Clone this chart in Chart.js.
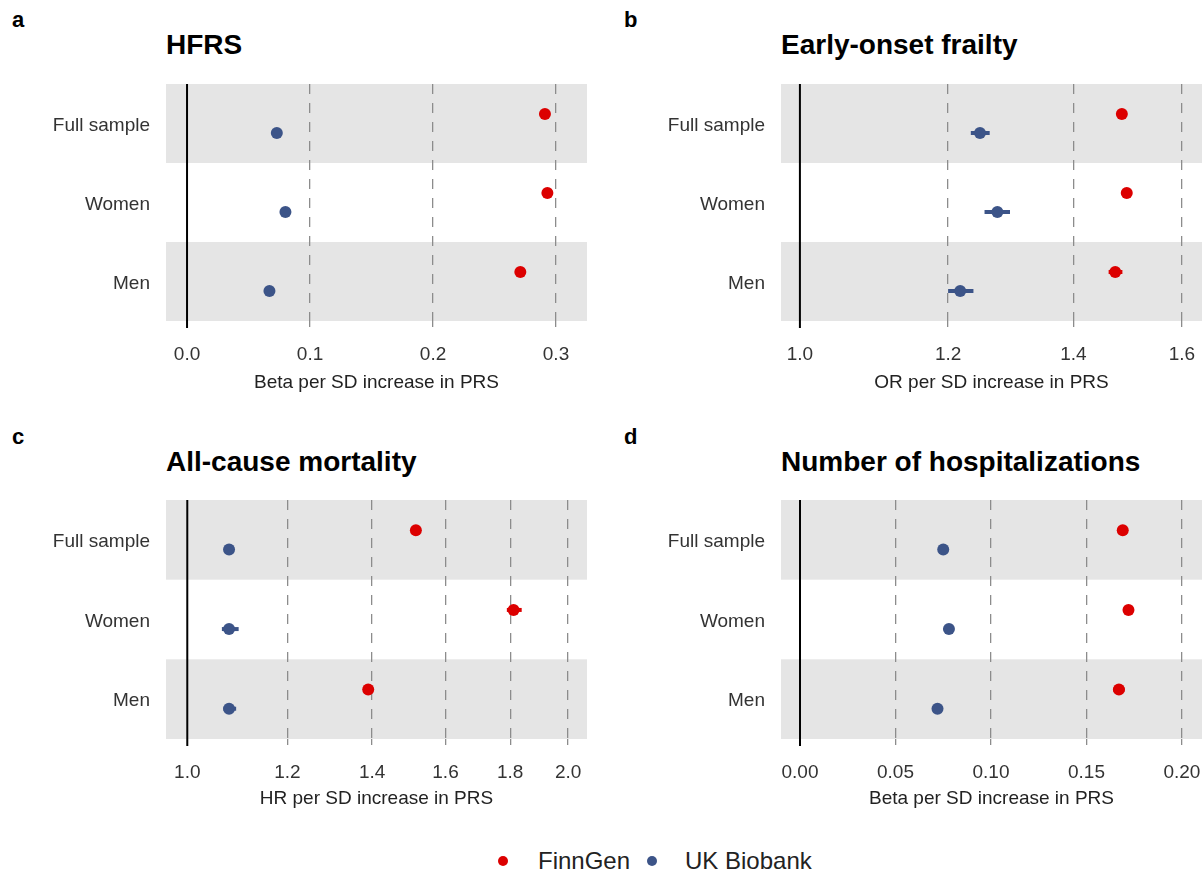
<!DOCTYPE html>
<html>
<head>
<meta charset="utf-8">
<script src="https://cdn.jsdelivr.net/npm/chart.js@4.4.1/dist/chart.umd.min.js"></script>
<style>
  body { margin: 0; background: #fff; font-family: "Liberation Sans", Arial, sans-serif; }
  #page { position: relative; width: 1203px; height: 873px; overflow: hidden; background: #fff; }
  .box { position: absolute; }
  .tag { position: absolute; font-weight: bold; font-size: 22px; line-height: 22px; color: #000; }
  .ttl { position: absolute; font-weight: bold; font-size: 28px; line-height: 28px; color: #000; white-space: nowrap; }
  .leg { position: absolute; font-size: 24px; line-height: 24px; color: #222; white-space: nowrap; }
  .dot { position: absolute; width: 10px; height: 10px; border-radius: 50%; }
</style>
</head>
<body>
<div id="page">
  <div class="tag" style="left:12px;top:9px">a</div>
  <div class="tag" style="left:624px;top:9px">b</div>
  <div class="tag" style="left:12px;top:426px">c</div>
  <div class="tag" style="left:624px;top:426px">d</div>

  <div class="ttl" style="left:166px;top:31px">HFRS</div>
  <div class="ttl" style="left:781px;top:31px">Early-onset frailty</div>
  <div class="ttl" style="left:166px;top:448px">All-cause mortality</div>
  <div class="ttl" style="left:781px;top:448px">Number of hospitalizations</div>

  <div class="box" style="left:0px;top:70px;width:600px;height:330px"><canvas id="chartA" width="600" height="330"></canvas></div>
  <div class="box" style="left:610px;top:70px;width:593px;height:330px"><canvas id="chartB" width="593" height="330"></canvas></div>
  <div class="box" style="left:0px;top:486px;width:600px;height:330px"><canvas id="chartC" width="600" height="330"></canvas></div>
  <div class="box" style="left:610px;top:486px;width:593px;height:330px"><canvas id="chartD" width="593" height="330"></canvas></div>

  <div class="dot" style="left:498px;top:856px;background:#DC0000"></div>
  <div class="leg" style="left:538px;top:849px">FinnGen</div>
  <div class="dot" style="left:647px;top:856px;background:#3C5488"></div>
  <div class="leg" style="left:685px;top:849px">UK Biobank</div>
</div>

<script>
// rows, top to bottom
var rowLabels = ['Full sample', 'Women', 'Men'];
var seriesNames = ['FinnGen', 'UK Biobank'];

// HFRS (beta)
var hfrsFinn   = [0.291, 0.293, 0.271];
var hfrsFinnLo = [0.289, 0.291, 0.269];
var hfrsFinnHi = [0.293, 0.295, 0.273];
var hfrsUkb    = [0.073, 0.080, 0.067];
var hfrsUkbLo  = [0.072, 0.079, 0.066];
var hfrsUkbHi  = [0.074, 0.081, 0.068];
var hfrsTicks = [0, 0.1, 0.2, 0.3];
var hfrsTickLabels = ['0.0', '0.1', '0.2', '0.3'];

// Early-onset frailty (OR)
var frailFinn   = [1.486, 1.495, 1.474];
var frailFinnLo = [1.480, 1.487, 1.462];
var frailFinnHi = [1.492, 1.503, 1.487];
var frailUkb    = [1.248, 1.275, 1.218];
var frailUkbLo  = [1.234, 1.255, 1.200];
var frailUkbHi  = [1.263, 1.295, 1.238];
var frailTicks = [1.0, 1.2, 1.4, 1.6];
var frailTickLabels = ['1.0', '1.2', '1.4', '1.6'];

// All-cause mortality (HR)
var mortFinn   = [1.516, 1.811, 1.390];
var mortFinnLo = [1.510, 1.789, 1.384];
var mortFinnHi = [1.522, 1.838, 1.396];
var mortUkb    = [1.079, 1.079, 1.079];
var mortUkbLo  = [1.073, 1.065, 1.068];
var mortUkbHi  = [1.085, 1.098, 1.093];
var mortTicks = [1.0, 1.2, 1.4, 1.6, 1.8, 2.0];
var mortTickLabels = ['1.0', '1.2', '1.4', '1.6', '1.8', '2.0'];

// Number of hospitalizations (beta)
var hospFinn   = [0.169, 0.172, 0.167];
var hospFinnLo = [0.1675, 0.1695, 0.164];
var hospFinnHi = [0.1705, 0.1745, 0.170];
var hospUkb    = [0.075, 0.078, 0.072];
var hospUkbLo  = [0.0738, 0.0755, 0.0695];
var hospUkbHi  = [0.0762, 0.0805, 0.0745];
var hospTicks = [0, 0.05, 0.10, 0.15, 0.20];
var hospTickLabels = ['0.00', '0.05', '0.10', '0.15', '0.20'];

var RED = '#DC0000';
var BLUE = '#3C5488';
var rowPos = [3, 2, 1];
var shadedRows = [3, 1];
var dodge = 0.12;

// bands, reference line and CI bars
var forestPlugin = {
  id: 'forest',
  beforeDraw: function(chart) {
    var ctx = chart.ctx, a = chart.chartArea, y = chart.scales.y;
    ctx.save();
    ctx.fillStyle = '#e5e5e5';
    shadedRows.forEach(function(r) {
      var t = y.getPixelForValue(r + 0.5), b = y.getPixelForValue(r - 0.5);
      ctx.fillRect(a.left, t, a.right - a.left, b - t);
    });
    ctx.restore();
  },
  beforeDatasetsDraw: function(chart, args, opts) {
    var ctx = chart.ctx, a = chart.chartArea, x = chart.scales.x, y = chart.scales.y;
    ctx.save();
    var px = x.getPixelForValue(opts.ref);
    ctx.strokeStyle = '#000';
    ctx.lineWidth = 2;
    ctx.beginPath();
    ctx.moveTo(px, a.top);
    ctx.lineTo(px, a.bottom + 7);
    ctx.stroke();
    ctx.lineWidth = 4;
    ctx.lineCap = 'butt';
    chart.data.datasets.forEach(function(ds) {
      ctx.strokeStyle = ds.backgroundColor;
      ds.data.forEach(function(p) {
        var py = y.getPixelForValue(p.y);
        ctx.beginPath();
        ctx.moveTo(x.getPixelForValue(p.lo), py);
        ctx.lineTo(x.getPixelForValue(p.hi), py);
        ctx.stroke();
      });
    });
    ctx.restore();
  }
};

function points(vals, lo, hi, off) {
  return vals.map(function(v, i) {
    return { x: v, y: rowPos[i] + off, lo: lo[i], hi: hi[i] };
  });
}

function makePanel(id, s) {
  var box = s.box, area = s.area;
  var yW = area.left - box.left;
  var xH = box.top + box.height - area.bottom;
  var lineCol = function(c) { return c.tick && c.tick.value === s.ref ? 'rgba(0,0,0,0)' : '#8c8c8c'; };
  new Chart(document.getElementById(id), {
    type: 'scatter',
    data: {
      datasets: [
        { label: seriesNames[0], data: points(s.finn, s.finnLo, s.finnHi, dodge),
          backgroundColor: RED, borderWidth: 0, pointRadius: 6, pointHoverRadius: 6 },
        { label: seriesNames[1], data: points(s.ukb, s.ukbLo, s.ukbHi, -dodge),
          backgroundColor: BLUE, borderWidth: 0, pointRadius: 6, pointHoverRadius: 6 }
      ]
    },
    options: {
      responsive: false,
      animation: false,
      layout: { autoPadding: false,
                padding: { top: area.top - box.top, right: box.left + box.width - area.right, left: 0, bottom: 0 } },
      plugins: { legend: { display: false }, tooltip: { enabled: false }, forest: { ref: s.ref } },
      scales: {
        x: {
          type: s.type, min: s.min, max: s.max,
          afterBuildTicks: function(sc) { sc.ticks = s.ticks.map(function(v) { return { value: v }; }); },
          afterFit: function(sc) { sc.height = xH; sc.paddingLeft = 0; sc.paddingRight = 0; },
          ticks: {
            callback: function(v, i) { return s.tickLabels[i]; },
            font: { family: 'Liberation Sans', size: 19 }, color: '#333',
            padding: 16, maxRotation: 0, autoSkip: false
          },
          grid: { color: lineCol, lineWidth: 1.3, tickLength: 6, tickColor: lineCol, tickWidth: 1.3 },
          border: { display: false, dash: [10, 9] },
          title: { display: true, text: s.xTitle, font: { family: 'Liberation Sans', size: 19 }, color: '#222',
                   padding: { top: 0, bottom: 6 } }
        },
        y: {
          type: 'linear', min: 0.5, max: 3.5,
          afterBuildTicks: function(sc) { sc.ticks = rowPos.map(function(v) { return { value: v }; }); },
          afterFit: function(sc) { sc.width = yW; sc.paddingTop = 0; sc.paddingBottom = 0; },
          ticks: {
            callback: function(v) { return rowLabels[rowPos.indexOf(v)]; },
            font: { family: 'Liberation Sans', size: 19 }, color: '#333', padding: 16, labelOffset: 2
          },
          grid: { display: false, drawTicks: false, tickLength: 0 },
          border: { display: false }
        }
      }
    },
    plugins: [forestPlugin]
  });
}

makePanel('chartA', {
  box: { left: 0, top: 70, width: 600, height: 330 }, area: { left: 166, top: 84, right: 587, bottom: 321 },
  type: 'linear', min: -0.0171, max: 0.3252, ref: 0,
  ticks: hfrsTicks, tickLabels: hfrsTickLabels, xTitle: 'Beta per SD increase in PRS',
  finn: hfrsFinn, finnLo: hfrsFinnLo, finnHi: hfrsFinnHi, ukb: hfrsUkb, ukbLo: hfrsUkbLo, ukbHi: hfrsUkbHi
});
makePanel('chartB', {
  box: { left: 610, top: 70, width: 593, height: 330 }, area: { left: 781, top: 84, right: 1202, bottom: 321 },
  type: 'logarithmic', min: 0.977, max: 1.64, ref: 1,
  ticks: frailTicks, tickLabels: frailTickLabels, xTitle: 'OR per SD increase in PRS',
  finn: frailFinn, finnLo: frailFinnLo, finnHi: frailFinnHi, ukb: frailUkb, ukbLo: frailUkbLo, ukbHi: frailUkbHi
});
makePanel('chartC', {
  box: { left: 0, top: 486, width: 600, height: 330 }, area: { left: 166, top: 500, right: 587, bottom: 739 },
  type: 'logarithmic', min: 0.962, max: 2.07, ref: 1,
  ticks: mortTicks, tickLabels: mortTickLabels, xTitle: 'HR per SD increase in PRS',
  finn: mortFinn, finnLo: mortFinnLo, finnHi: mortFinnHi, ukb: mortUkb, ukbLo: mortUkbLo, ukbHi: mortUkbHi
});
makePanel('chartD', {
  box: { left: 610, top: 486, width: 593, height: 330 }, area: { left: 781, top: 500, right: 1202, bottom: 739 },
  type: 'linear', min: -0.00995, max: 0.2105, ref: 0,
  ticks: hospTicks, tickLabels: hospTickLabels, xTitle: 'Beta per SD increase in PRS',
  finn: hospFinn, finnLo: hospFinnLo, finnHi: hospFinnHi, ukb: hospUkb, ukbLo: hospUkbLo, ukbHi: hospUkbHi
});
</script>
</body>
</html>
